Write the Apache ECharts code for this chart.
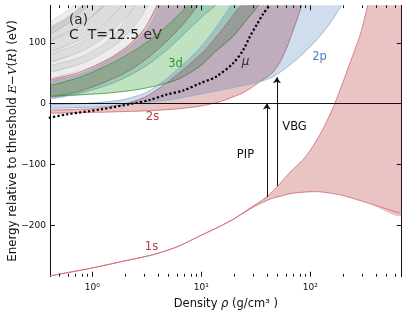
<!DOCTYPE html>
<html><head><meta charset="utf-8">
<script src="https://cdn.jsdelivr.net/npm/echarts@6/dist/echarts.min.js"></script>
<style>html,body{margin:0;padding:0;background:#fff}#c{width:407px;height:316px}</style>
</head><body><div id="c"></div>
<script>
// ---------- data (density rho in g/cm3, energy E in eV) ----------
const xMajorTicks = [1, 10, 100];
const yTicks = [-200, -100, 0, 100];

const band1sLower = [[0.4,-283],[0.95,-270.5],[2,-258],[3.6,-248],[6,-235],[10,-216],[15,-201],[20,-189],[30,-170],[40,-159],[46,-155],[70,-147],[117,-144.6],[190,-150],[337,-163],[700,-181]];
const band1sUpper = [[0.4,-283],[0.95,-270.5],[2,-258],[3.6,-248],[6,-235],[10,-216],[15,-201],[20,-189],[30,-168],[40,-153],[50,-136],[65,-113],[85,-93],[100,-77],[130,-43],[168,0],[230,65],[290,115],[337,161],[420,230],[700,420]];

const band2sLower = [[0.4,-15.9],[1.18,-14.3],[3.38,-11.8],[6.38,-8.5],[9.73,-4.4],[14.85,3],[22.6,15.2],[28,24.3],[36.1,38.2],[44.6,49.7],[52.7,67.7],[61.1,92.3],[70.8,123.4],[83.9,161.1],[95.3,189]];
const band2sUpper = [[0.4,-11],[0.95,-8.5],[1.8,-2.8],[3.04,10.3],[4.64,31.6],[7.08,57.9],[10.8,87.4],[15.4,120.2],[21.2,152.9],[24.1,164.4],[26.8,185.7]];

const band2pLower = [[0.4,-7.7],[1.18,-5.2],[2.36,-0.3],[5.16,6.2],[9.73,15.2],[18.3,25.1],[28,31.6],[42.7,41.5],[56.2,54.6],[80.5,77],[114.5,104.3],[151.7,131.6],[194,161.6],[231.6,189]];
const band2pUpper = [[0.4,-2],[0.95,0.5],[1.8,5.4],[3.04,16.9],[4.36,34.9],[6.38,59.5],[9.32,87.4],[13.1,120.2],[17.5,152.9],[19.1,164.4],[21.7,185.7]];

const band3sLower = [[0.4,10.3],[0.77,20.2],[1.45,38.2],[2.22,54.6],[3.38,77.5],[5.16,107],[7.08,133.3],[9.32,161.1],[10.6,177.5]];
const band3sUpper = [[0.4,38.2],[0.77,51.3],[1.45,74.3],[2.22,97.2],[3.04,123.4],[3.92,161.1],[4.36,182.5]];

const band3pLower = [[0.4,7.9],[0.77,16.9],[1.45,31.6],[2.22,46.4],[3.38,66.1],[5.16,92.3],[7.88,123.4],[10.8,146.4],[13.6,161.1],[15.4,177.5]];
const band3pUpper = [[0.4,34.9],[0.77,48],[1.45,71],[2.32,95.6],[3.24,123.4],[4.18,161.1],[4.64,182.5]];

const band3dLower = [[0.4,12],[1.18,16.1],[2.22,21],[3.38,26.7],[5.98,39],[9.73,61.1],[13.3,84.1],[19.6,110.3],[26.8,139.8],[34.6,164.4],[38.4,182.5]];
const band3dUpper = [[0.4,28.4],[0.77,43.1],[1.45,64.4],[2.22,82.5],[3.38,103.8],[5.16,131.6],[7.55,161.1],[8.75,177.5]];

const bandG1Lower = [[0.4,41.5],[0.95,57.9],[1.8,82.5],[2.74,112],[3.76,149.7],[4.0,161.1],[4.36,182.5]];
const bandG1Upper = [[0.4,61.1],[0.77,75.9],[1.31,98.9],[1.87,128.4],[2.47,161.1],[2.74,182.5]];
const bandG2Lower = [[0.4,51.3],[0.86,67.7],[1.62,95.6],[2.47,128.4],[3.24,161.1],[3.53,182.5]];
const bandG2Upper = [[0.4,79.2],[0.69,95.6],[1.18,120.2],[1.62,148],[1.87,161.1],[2.04,177.5]];
const bandG3Lower = [[0.4,67.7],[0.77,84.1],[1.31,108.7],[2.0,139.8],[2.47,161.1],[2.74,182.5]];
const bandG3Upper = [[0.4,100.5],[0.62,116.9],[0.95,139.8],[1.23,161.1],[1.34,177.5]];
const bandG4Lower = [[0.4,84.1],[0.77,103.8],[1.18,123.4],[1.62,149.7],[1.87,161.1],[2.04,177.5]];
const bandG4Upper = [[0.4,120.2],[0.56,136.6],[0.77,156.2],[0.84,161.1],[0.91,177.5]];
const bandG5Lower = [[0.4,103.8],[0.69,123.4],[1.06,146.4],[1.31,161.1],[1.45,177.5]];
const bandG5Upper = [[0.4,124],[0.6,142],[0.8,161.1],[0.86,177.5]];
const bandG6Lower = [[0.4,112],[0.62,133.3],[0.86,156.2],[0.9,161.1],[0.97,177.5]];
const bandG6Upper = [[0.4,131.6],[0.56,149.7],[0.67,161.1],[0.72,177.5]];

const muLine = [[0.4,-23.5],[0.58,-18],[1.18,-9.8],[2.37,0],[3.38,5.9],[4.82,14.8],[6.84,21.3],[9.73,33],[13.8,44.3],[19.7,66.5],[24.3,87.9],[28,110],[32.5,130],[37,147],[42.5,161]];

const arrowRho = [40, 49.5];
const arrowFrom = [-153.6, -135.6];
const arrowTo = [0, 43];

// ---------- axis extents & styles ----------
const X_MIN = 0.41, X_MAX = 690, Y_MIN = -284, Y_MAX = 161;
const FONT = 'DejaVu Sans';
const RED_FILL = 'rgba(171,19,23,0.25)', RED_EDGE = '#cf6a6c';
const BLUE_FILL = 'rgba(15,85,160,0.20)', BLUE_EDGE = '#86acd5';
const GREEN_FILL = 'rgba(25,148,25,0.27)', GREEN_EDGE = '#3d9b3d';
const GRAY_FILL = 'rgba(90,90,90,0.11)', GRAY_EDGE = 'rgba(160,160,160,0.35)';

const minorTicks = [];
[0.1, 1, 10, 100].forEach(function (d) {
  for (let k = 2; k <= 9; k++) { const v = +(k * d).toPrecision(3); if (v > X_MIN && v < X_MAX) minorTicks.push(v); }
});

function bandSeries(lower, upper, fill, edge) {
  return {
    type: 'custom', coordinateSystem: 'cartesian2d', silent: true, animation: false,
    data: [[1, 0]], encode: { x: 0, y: 1 },
    renderItem: function (params, api) {
      const lo = lower.map(function (p) { return api.coord(p); });
      const hi = upper.map(function (p) { return api.coord(p); });
      const poly = lo.concat(hi.slice().reverse());
      const cs = params.coordSys;
      return {
        type: 'group',
        clipPath: { type: 'rect', shape: { x: cs.x, y: cs.y, width: cs.width, height: cs.height } },
        children: [
          { type: 'polygon', shape: { points: poly, smooth: 0.25 }, style: { fill: fill, stroke: null } },
          { type: 'polyline', shape: { points: lo, smooth: 0.25 }, style: { fill: null, stroke: edge, lineWidth: 0.8 } },
          { type: 'polyline', shape: { points: hi, smooth: 0.25 }, style: { fill: null, stroke: edge, lineWidth: 0.8 } }
        ]
      };
    }
  };
}

// tick marks (inward, on all four sides) positioned through the axes' scales
const tickSeries = {
  type: 'custom', coordinateSystem: 'cartesian2d', silent: true, animation: false, z: 10,
  data: [[1, 0]], encode: { x: 0, y: 1 },
  renderItem: function (params, api) {
    const kids = [];
    function seg(x1, y1, x2, y2) {
      kids.push({ type: 'line', shape: { x1: x1, y1: y1, x2: x2, y2: y2 }, style: { stroke: '#111', lineWidth: 1 } });
    }
    function xt(v, len) {
      const b = api.coord([v, Y_MIN]), t = api.coord([v, Y_MAX]);
      const x = Math.round(b[0]) + 0.5;
      seg(x, b[1], x, b[1] - len); seg(x, t[1], x, t[1] + len);
    }
    function yt(v, len) {
      const l = api.coord([X_MIN, v]), r = api.coord([X_MAX, v]);
      const y = Math.round(l[1]) + 0.5;
      seg(l[0], y, l[0] + len, y); seg(r[0], y, r[0] - len, y);
    }
    xMajorTicks.forEach(function (v) { xt(v, 5); });
    minorTicks.forEach(function (v) { xt(v, 2.8); });
    yTicks.forEach(function (v) { yt(v, 5); });
    return { type: 'group', children: kids };
  }
};

const axisLineStyle = { color: '#111', width: 1 };
const sup = { '0': '\u2070', '1': '\u00b9', '2': '\u00b2' };
function xAxisDef(pos, labels) {
  return {
    type: 'log', logBase: 10, min: X_MIN, max: X_MAX, position: pos,
    axisLine: { show: true, lineStyle: axisLineStyle },
    axisTick: { show: false },
    axisLabel: labels ? {
      show: true, customValues: xMajorTicks, margin: 6, color: '#111', fontFamily: FONT, fontSize: 9,
      formatter: function (v) { return '10' + sup[String(Math.round(Math.log10(v)))]; }
    } : { show: false },
    splitLine: { show: false }, minorTick: { show: false }, minorSplitLine: { show: false },
    name: labels ? 'Density {it|\u03c1} (g/cm\u00b3 )' : '',
    nameLocation: 'middle', nameGap: 21, nameMoveOverlap: false,
    nameTextStyle: { color: '#111', fontFamily: FONT, fontSize: 11.5,
      rich: { it: { fontStyle: 'italic', fontFamily: FONT, fontSize: 11.5, color: '#111' } } }
  };
}
function yAxisDef(pos, labels) {
  return {
    type: 'value', min: Y_MIN, max: Y_MAX, position: pos,
    axisLine: { show: true, lineStyle: axisLineStyle },
    axisTick: { show: false },
    axisLabel: labels ? {
      show: true, customValues: yTicks, margin: 4, color: '#111', fontFamily: FONT, fontSize: 9,
      formatter: function (v) { return v < 0 ? '\u2212' + Math.abs(v) : String(v); }
    } : { show: false },
    splitLine: { show: false },
    name: labels ? 'Energy relative to threshold {it|E}\u2212{it|V}({it|R}) (eV)' : '',
    nameLocation: 'middle', nameGap: 31, nameRotate: 90, nameMoveOverlap: false,
    nameTextStyle: { color: '#111', fontFamily: FONT, fontSize: 11.8,
      rich: { it: { fontStyle: 'italic', fontFamily: 'DejaVu Serif', fontSize: 11.8, color: '#111' } } }
  };
}

const series = [
  bandSeries(bandG6Lower, bandG6Upper, GRAY_FILL, GRAY_EDGE),
  bandSeries(bandG5Lower, bandG5Upper, GRAY_FILL, GRAY_EDGE),
  bandSeries(bandG4Lower, bandG4Upper, GRAY_FILL, GRAY_EDGE),
  bandSeries(bandG3Lower, bandG3Upper, GRAY_FILL, GRAY_EDGE),
  bandSeries(bandG2Lower, bandG2Upper, GRAY_FILL, GRAY_EDGE),
  bandSeries(bandG1Lower, bandG1Upper, GRAY_FILL, GRAY_EDGE),
  bandSeries(band3sLower, band3sUpper, RED_FILL, RED_EDGE),
  bandSeries(band3pLower, band3pUpper, BLUE_FILL, BLUE_EDGE),
  bandSeries(band3dLower, band3dUpper, GREEN_FILL, GREEN_EDGE),
  bandSeries(band2sLower, band2sUpper, RED_FILL, RED_EDGE),
  bandSeries(band2pLower, band2pUpper, BLUE_FILL, BLUE_EDGE),
  bandSeries(band1sLower, band1sUpper, RED_FILL, RED_EDGE),
  {
    type: 'line', data: muLine, smooth: 0.3, showSymbol: false, silent: true, animation: false,
    clip: true, lineStyle: { color: '#000', width: 2.2, type: [2.2, 2.2], cap: 'butt' },
    markLine: {
      silent: true, animation: false, symbol: ['none', 'arrow'], symbolSize: 6,
      label: { show: false },
      lineStyle: { color: '#111', width: 1, type: 'solid' },
      data: arrowRho.map(function (r, i) {
        return [{ coord: [r, arrowFrom[i]] }, { coord: [r, arrowTo[i]] }];
      }).concat([[{ coord: [X_MIN, 0], symbol: 'none' }, { coord: [X_MAX, 0], symbol: 'none' }]])
    }
  },
  tickSeries
];

function txt(x, y, s, color, size, extra) {
  return Object.assign({ type: 'text', x: x, y: y, silent: true,
    style: Object.assign({ text: s, fill: color, fontFamily: FONT, fontSize: size,
      align: 'center', verticalAlign: 'middle', textAlign: 'center', textVerticalAlign: 'middle' }, extra || {}) });
}

const chart = echarts.init(document.getElementById('c'), null, { renderer: 'canvas' });
chart.setOption({
  animation: false,
  backgroundColor: '#fff',
  grid: { left: 50, right: 5.3, top: 5.3, bottom: 39.3, containLabel: false, outerBoundsMode: 'none' },
  xAxis: [xAxisDef('bottom', true), xAxisDef('top', false)],
  yAxis: [yAxisDef('left', true), yAxisDef('right', false)],
  series: series,
  graphic: [
    txt(78.5, 20, '(a)', '#111', 13.5),
    txt(69, 35.5, 'C  T=12.5 eV', '#111', 14, { align: 'left', textAlign: 'left' }),
    txt(175.5, 64, '3d', '#2e952e', 11.5),
    txt(245.5, 62, '\u03bc', '#111', 12, { fontStyle: 'italic' }),
    txt(319.5, 57, '2p', '#4a7fb8', 11.5),
    txt(152.5, 117, '2s', '#b83c3f', 11.5),
    txt(294.5, 127, 'VBG', '#111', 11.5),
    txt(245.5, 155, 'PIP', '#111', 11.5),
    txt(151.5, 247, '1s', '#b83c3f', 11.5)
  ]
});
</script>
</body></html>
